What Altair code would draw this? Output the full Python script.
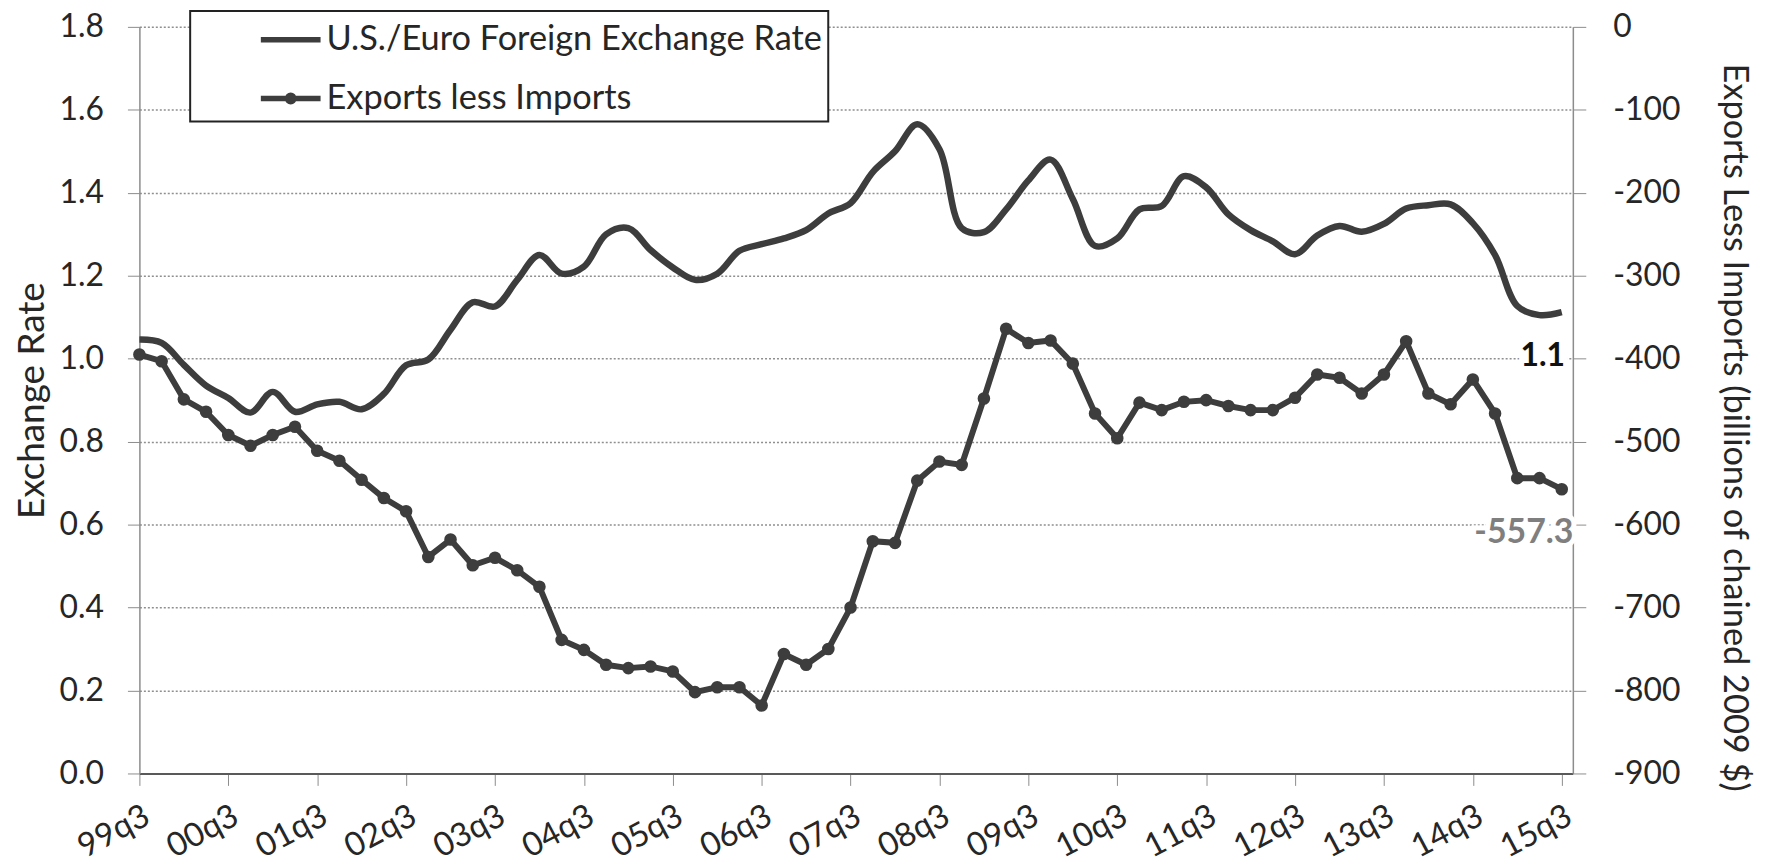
import json
import altair as alt
import pandas as pd

# ---- data ----
quarter_idx = list(range(65))  # 99q3 ... 15q3
tick_labels = ["99q3", "00q3", "01q3", "02q3", "03q3", "04q3", "05q3", "06q3",
               "07q3", "08q3", "09q3", "10q3", "11q3", "12q3", "13q3", "14q3", "15q3"]
exchange_rate = [1.046, 1.038, 0.985, 0.935, 0.905, 0.870, 0.920, 0.872, 0.890, 0.896,
                 0.878, 0.915, 0.984, 0.998, 1.070, 1.136, 1.126, 1.190, 1.250, 1.205,
                 1.222, 1.300, 1.315, 1.262, 1.220, 1.190, 1.205, 1.260, 1.276, 1.290,
                 1.310, 1.350, 1.375, 1.450, 1.500, 1.565, 1.505, 1.315, 1.305, 1.360,
                 1.430, 1.480, 1.385, 1.272, 1.290, 1.360, 1.368, 1.440, 1.413, 1.348,
                 1.310, 1.283, 1.252, 1.297, 1.320, 1.306, 1.325, 1.362, 1.370, 1.372,
                 1.327, 1.250, 1.127, 1.105, 1.112]
exports_less_imports = [-395, -403, -449, -464, -492, -505, -492, -482, -511, -523,
                        -546, -568, -584, -639, -618, -649, -640, -655, -675, -739,
                        -751, -769, -773, -771, -777, -802, -796, -796, -818, -756,
                        -769, -750, -700, -620, -622, -547, -524, -528, -448, -364,
                        -381, -378, -406, -466, -496, -453, -462, -452, -450, -457,
                        -462, -462, -447, -419, -423, -442, -419, -379, -442, -455,
                        -425, -466, -544, -544, -557.3]
series_names = ["U.S./Euro Foreign Exchange Rate", "Exports less Imports"]
left_ticks = [0.0, 0.2, 0.4, 0.6, 0.8, 1.0, 1.2, 1.4, 1.6, 1.8]
right_ticks = [-900, -800, -700, -600, -500, -400, -300, -200, -100, 0]

df = pd.DataFrame({"q": quarter_idx, "rate": exchange_rate, "net": exports_less_imports})
legend_df = pd.DataFrame({"series": series_names})

FONT = "Lato"
DARK = "#3d3d3d"
TEXT = "#262626"
AXIS_GRAY = "#8c8c8c"

last_q = quarter_idx[-1]
x_enc = alt.X(
    "q:Q",
    scale=alt.Scale(domain=[0, 64.5], nice=False, zero=False),
    axis=alt.Axis(
        values=[i * 4 for i in range(len(tick_labels))],
        labelExpr=json.dumps(tick_labels) + "[round(datum.value / 4)]",
        title=None, grid=False, labelAngle=-28, labelAlign="right", labelBaseline="top",
        labelFontSize=33, labelPadding=14, tickSize=12, tickColor=AXIS_GRAY,
        domainColor="#595959", domainWidth=2, labelColor=TEXT, labelFont=FONT,
        labelOverlap=False,
    ),
)

y_left = alt.Y(
    "rate:Q",
    scale=alt.Scale(domain=[0, 1.8], nice=False),
    axis=alt.Axis(
        values=left_ticks, format=".1f", title="Exchange Rate", grid=True,
        gridDash=[2, 2], gridColor="#8f8f8f", gridWidth=1.5,
        tickSize=12, tickColor=AXIS_GRAY, domainColor=AXIS_GRAY, domainWidth=1.5,
        labelFontSize=32, labelPadding=24, labelColor=TEXT, labelFont=FONT,
        titleFontSize=37, titleFont=FONT, titleColor=TEXT, titleFontWeight="normal",
        titleX=-107, titleY=375, titleBaseline="middle", titleAngle=-90,
    ),
)

y_right = alt.Y(
    "net:Q",
    scale=alt.Scale(domain=[-900, 0], nice=False),
    axis=alt.Axis(
        orient="right", values=right_ticks, labelExpr="'' + datum.value",
        title="Exports Less Imports (billions of chained 2009 $)", grid=False,
        tickSize=13, tickColor=AXIS_GRAY, domainColor=AXIS_GRAY, domainWidth=1.5,
        labelFontSize=32, labelPadding=27, labelColor=TEXT, labelFont=FONT,
        titleFontSize=34.5, titleFont=FONT, titleColor=TEXT, titleFontWeight="normal",
        titleX=161, titleY=402, titleBaseline="middle", titleAngle=90,
    ),
)

base = alt.Chart(df)

rate_line = base.mark_line(interpolate="catmull-rom", color=DARK, strokeWidth=6.5).encode(
    x=x_enc, y=y_left)

last = base.transform_filter(alt.datum.q == last_q).transform_calculate(
    rate_lbl="format(datum.rate, '.1f')", net_lbl="'' + datum.net")
rate_halo = last.mark_text(font=FONT, fontSize=32, fontWeight="bold", dx=-19, dy=44,
                           stroke="white", strokeWidth=10, fill="white").encode(
    x=x_enc, y=y_left, text="rate_lbl:N")
rate_text = last.mark_text(font=FONT, fontSize=32, fontWeight="bold", dx=-19, dy=44,
                           color="#111111").encode(
    x=x_enc, y=y_left, text="rate_lbl:N")

legend_layer = alt.Chart(legend_df).transform_filter("false").mark_point(
    filled=False, color=DARK, strokeWidth=5.5, opacity=1
).encode(
    x=alt.value(0), y=alt.value(0),
    shape=alt.Shape(
        "series:N",
        scale=alt.Scale(
            domain=series_names,
            range=["M-1.5,0H1.5",
                   "M-1.5,0H1.5M-0.16,0A0.16,0.16,0,1,1,0.16,0A0.16,0.16,0,1,1,-0.16,0Z"],
        ),
        legend=alt.Legend(
            title=None, orient="none", legendX=51, legendY=-16, direction="vertical",
            strokeColor="#222222", fillColor="white", padding=6, rowPadding=19,
            symbolOffset=72, labelOffset=13, symbolSize=1600, symbolStrokeWidth=5.5,
            symbolStrokeColor=DARK, symbolOpacity=1,
            labelFontSize=34.5, labelFont=FONT, labelColor=TEXT, labelLimit=1000,
        ),
    ),
)

net_line = base.mark_line(color=DARK, strokeWidth=6).encode(x=x_enc, y=y_right)
net_pts = base.mark_circle(size=160, color=DARK, opacity=1).encode(x=x_enc, y=y_right)
net_halo = last.mark_text(font=FONT, fontSize=34, fontWeight="bold", dx=-38, dy=44,
                          stroke="white", strokeWidth=10, fill="white").encode(
    x=x_enc, y=y_right, text="net_lbl:N")
net_text = last.mark_text(font=FONT, fontSize=34, fontWeight="bold", dx=-38, dy=44,
                          color="#7f7f7f").encode(
    x=x_enc, y=y_right, text="net_lbl:N")

left_group = alt.layer(rate_line, rate_halo, rate_text, legend_layer)
right_group = alt.layer(net_line, net_pts, net_halo, net_text)

chart = alt.layer(left_group, right_group).resolve_scale(y="independent").properties(
    width=1440, height=750,
    autosize=alt.AutoSizeParams(type="none"),
    padding={"left": 132, "top": 17, "right": 185, "bottom": 90},
    background="white",
).configure_view(stroke=None).configure_legend(strokeWidth=2)

chart.save("out.html", embed_options={"renderer": "svg", "actions": False})
